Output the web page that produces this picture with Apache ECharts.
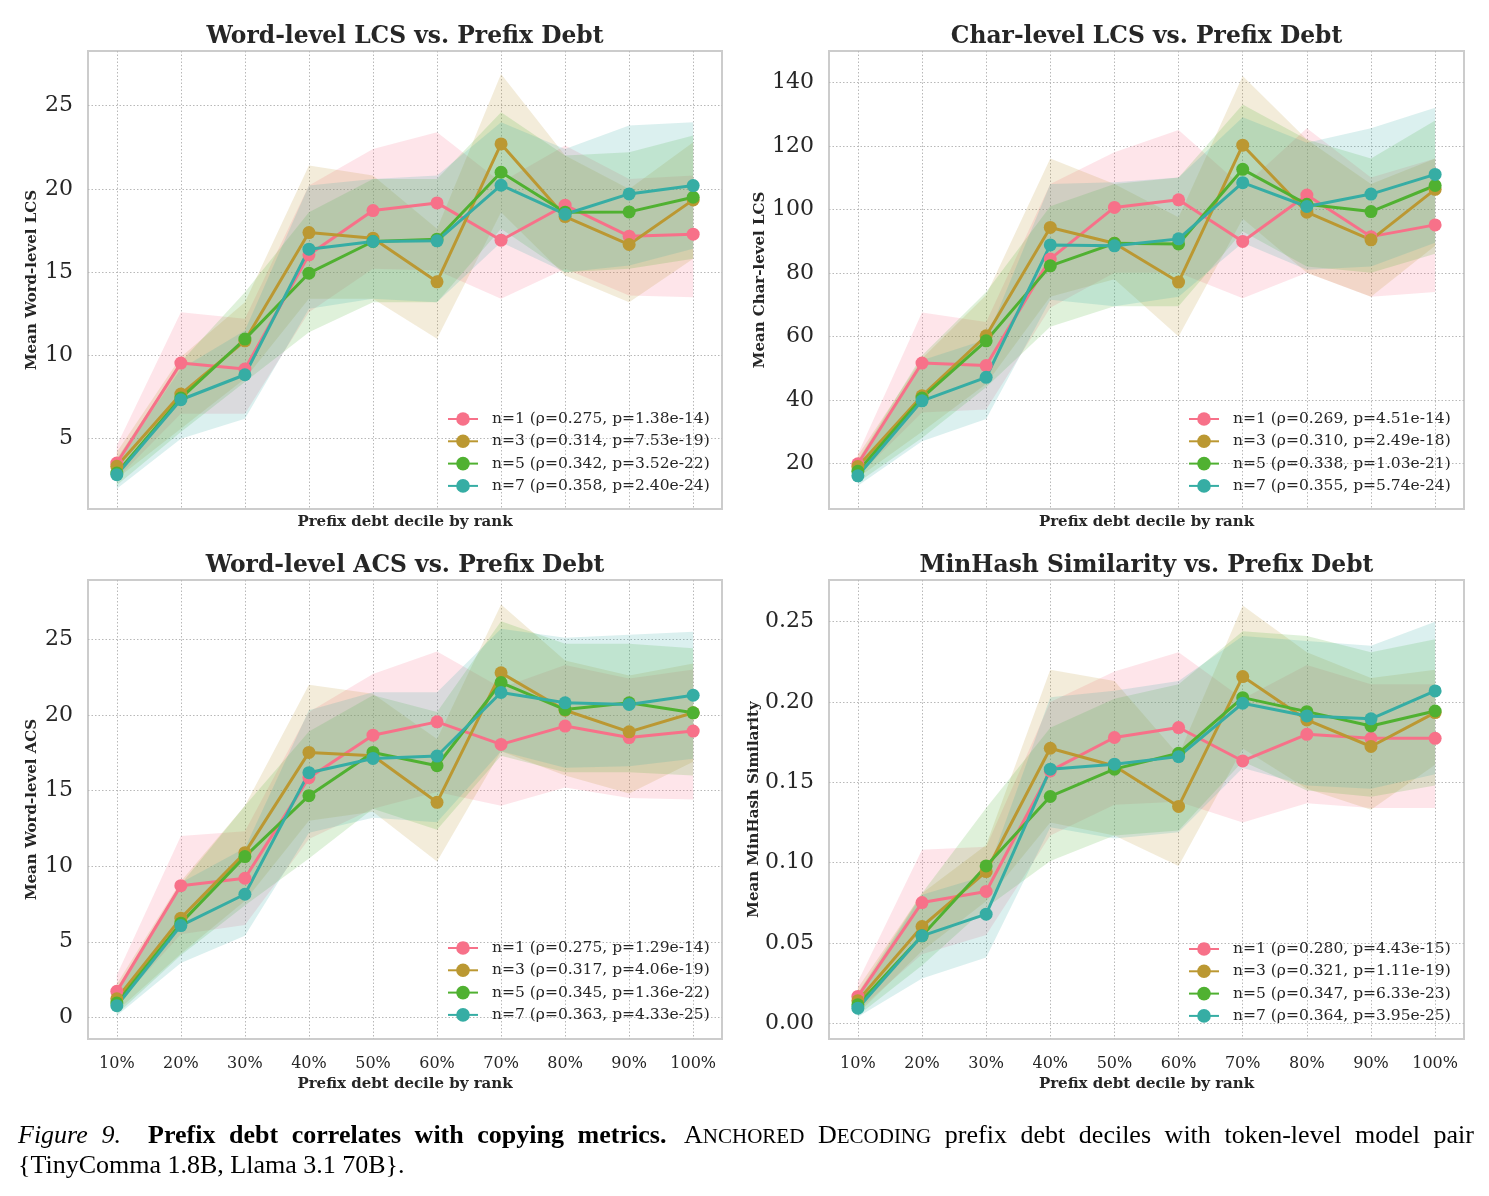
<!DOCTYPE html>
<html><head><meta charset="utf-8">
<script src="https://cdn.jsdelivr.net/npm/echarts@6/dist/echarts.min.js"></script>
<style>html,body{margin:0;padding:0;background:#fff}#c{width:1489px;height:1196px}</style>
</head><body><div id="c"></div>
<script>
// ---------- data ----------
const categories = ['10%','20%','30%','40%','50%','60%','70%','80%','90%','100%'];
const colors = ['#f77189','#bb9832','#50b131','#36ada4'];

// Word-level LCS
const wordLcsLegend = ['n=1 (ρ=0.275, p=1.38e-14)','n=3 (ρ=0.314, p=7.53e-19)','n=5 (ρ=0.342, p=3.52e-22)','n=7 (ρ=0.358, p=2.40e-24)'];
const wordLcsTicks = [5,10,15,20,25];
const wordLcsMean = [
  [3.54, 9.54, 9.18, 16.04, 18.70, 19.16, 16.92, 19.02, 17.16, 17.28],
  [3.34, 7.68, 10.88, 17.38, 17.04, 14.42, 22.70, 18.34, 16.66, 19.34],
  [2.94, 7.44, 10.98, 14.94, 16.84, 16.98, 21.00, 18.60, 18.62, 19.50],
  [2.84, 7.34, 8.84, 16.38, 16.84, 16.88, 20.22, 18.48, 19.70, 20.20]];
const wordLcsLower = [
  [2.6, 6.5, 6.5, 12.6, 15.2, 15.1, 13.4, 15.2, 13.6, 13.5],
  [2.6, 5.6, 8.6, 13.4, 13.4, 11.0, 18.6, 14.8, 13.2, 15.8],
  [2.2, 5.4, 8.4, 11.4, 13.2, 13.2, 17.6, 15.0, 15.2, 15.8],
  [2.0, 5.0, 6.2, 12.8, 13.4, 13.2, 16.8, 15.0, 15.4, 16.4]];
const wordLcsUpper = [
  [4.6, 12.6, 12.2, 20.2, 22.4, 23.4, 20.4, 22.6, 20.6, 20.8],
  [4.2, 9.9, 13.2, 21.4, 20.8, 17.6, 26.9, 22.0, 20.0, 22.8],
  [3.8, 9.6, 13.8, 18.6, 20.6, 20.6, 24.6, 22.0, 22.2, 23.2],
  [3.6, 9.2, 11.5, 20.2, 20.6, 20.8, 24.0, 22.4, 23.8, 24.0]];

// Char-level LCS
const charLcsLegend = ['n=1 (ρ=0.269, p=4.51e-14)','n=3 (ρ=0.310, p=2.49e-18)','n=5 (ρ=0.338, p=1.03e-21)','n=7 (ρ=0.355, p=5.74e-24)'];
const charLcsTicks = [20,40,60,80,100,120,140];
const charLcsMean = [
  [19.9, 51.6, 50.8, 84.4, 100.6, 103.0, 89.9, 104.5, 91.4, 95.1],
  [19.0, 41.3, 60.2, 94.3, 89.3, 77.1, 120.2, 99.1, 90.4, 106.3],
  [17.5, 40.6, 58.6, 82.2, 89.3, 89.1, 112.6, 101.6, 99.3, 107.5],
  [16.1, 39.7, 47.1, 88.8, 88.5, 90.7, 108.4, 100.9, 104.8, 111.0]];
const charLcsLower = [
  [16, 36, 37, 69, 80, 80, 72, 80, 72.5, 74],
  [15.5, 30, 45, 72.5, 78, 60, 97, 80, 72.5, 88.5],
  [14, 28, 44, 63, 69.5, 69.5, 93, 82, 80, 86],
  [13, 27, 34, 71.5, 69.5, 72.5, 89.5, 81, 82, 89.5]];
const charLcsUpper = [
  [23, 67.5, 64.5, 108, 118, 125, 107, 125.5, 110, 116],
  [22.5, 53, 73, 116, 108, 97.5, 142, 122, 108, 116],
  [21, 54, 74, 101, 108, 110, 133, 122, 116, 128],
  [19.5, 52.5, 59, 108, 108.5, 110, 129, 121, 125.5, 132]];

// Word-level ACS
const wordAcsLegend = ['n=1 (ρ=0.275, p=1.29e-14)','n=3 (ρ=0.317, p=4.06e-19)','n=5 (ρ=0.345, p=1.36e-22)','n=7 (ρ=0.363, p=4.33e-25)'];
const wordAcsTicks = [0,5,10,15,20,25];
const wordAcsMean = [
  [1.72, 8.71, 9.20, 15.85, 18.66, 19.54, 18.05, 19.26, 18.50, 18.93],
  [1.23, 6.56, 10.89, 17.52, 17.30, 14.22, 22.78, 20.31, 18.88, 20.14],
  [0.95, 6.23, 10.63, 14.66, 17.52, 16.64, 22.14, 20.35, 20.80, 20.14],
  [0.77, 6.07, 8.14, 16.18, 17.12, 17.28, 21.48, 20.80, 20.69, 21.30]];
const wordAcsLower = [
  [0.8, 5.5, 6.1, 11.8, 13.8, 14.9, 14.0, 15.2, 14.5, 14.4],
  [0.4, 4.2, 7.7, 13.0, 13.6, 10.3, 17.6, 16.0, 14.8, 16.9],
  [0.2, 4.1, 7.4, 10.5, 13.8, 12.4, 17.3, 16.2, 16.2, 16.0],
  [0.1, 3.6, 5.4, 12.2, 13.2, 12.9, 17.6, 16.5, 16.6, 17.1]];
const wordAcsUpper = [
  [2.8, 12.0, 12.3, 20.2, 22.7, 24.2, 21.8, 23.3, 22.4, 23.0],
  [2.2, 9.0, 14.0, 22.0, 21.4, 18.4, 27.3, 23.6, 22.6, 23.4],
  [1.8, 8.8, 14.0, 18.9, 21.3, 20.2, 26.2, 24.7, 24.7, 24.4],
  [1.6, 8.9, 11.2, 20.3, 21.5, 21.5, 25.7, 25.1, 25.3, 25.5]];

// MinHash similarity
const minhashLegend = ['n=1 (ρ=0.280, p=4.43e-15)','n=3 (ρ=0.321, p=1.11e-19)','n=5 (ρ=0.347, p=6.33e-23)','n=7 (ρ=0.364, p=3.95e-25)'];
const minhashTicks = [0, 0.05, 0.10, 0.15, 0.20, 0.25];
const minhashMean = [
  [0.0168, 0.0752, 0.0821, 0.1571, 0.1779, 0.1841, 0.1633, 0.1799, 0.1774, 0.1774],
  [0.0141, 0.0603, 0.0945, 0.1712, 0.1602, 0.1350, 0.2158, 0.1888, 0.1723, 0.1934],
  [0.0116, 0.0545, 0.0980, 0.1412, 0.1582, 0.1681, 0.2027, 0.1940, 0.1851, 0.1944],
  [0.0095, 0.0545, 0.0680, 0.1582, 0.1613, 0.1660, 0.1992, 0.1913, 0.1895, 0.2069]];
const minhashLower = [
  [0.008, 0.043, 0.055, 0.117, 0.136, 0.138, 0.125, 0.137, 0.134, 0.134],
  [0.006, 0.045, 0.076, 0.125, 0.117, 0.098, 0.171, 0.146, 0.133, 0.161],
  [0.005, 0.036, 0.072, 0.101, 0.117, 0.120, 0.163, 0.145, 0.141, 0.148],
  [0.004, 0.028, 0.041, 0.122, 0.115, 0.119, 0.159, 0.148, 0.146, 0.155]];
const minhashUpper = [
  [0.026, 0.108, 0.110, 0.200, 0.219, 0.231, 0.202, 0.223, 0.211, 0.211],
  [0.022, 0.081, 0.111, 0.220, 0.213, 0.167, 0.260, 0.231, 0.215, 0.220],
  [0.019, 0.081, 0.134, 0.184, 0.202, 0.211, 0.244, 0.241, 0.231, 0.239],
  [0.017, 0.080, 0.092, 0.203, 0.207, 0.213, 0.241, 0.238, 0.235, 0.250]];

// caption words
const captionLine1 = [
  ['it','Figure'], ['it','9.'],
  ['bd','Prefix'], ['bd','debt'], ['bd','correlates'], ['bd','with'], ['bd','copying'], ['bd','metrics.'],
  ['sc','ANCHORED'], ['sc','DECODING'],
  ['rg','prefix'], ['rg','debt'], ['rg','deciles'], ['rg','with'], ['rg','token-level'], ['rg','model'], ['rg','pair']];
const captionLine2 = '{TinyComma 1.8B, Llama 3.1 70B}.';

// ---------- layout ----------
const SERIF = 'DejaVu Serif';
const TXT = '#262626';
const xIdx = categories.map((c, i) => i);

const panels = [
  {title:'Word-level LCS vs. Prefix Debt', yName:'Mean Word-level LCS', ticks:wordLcsTicks, min:0.78, max:28.28,
   mean:wordLcsMean, lower:wordLcsLower, upper:wordLcsUpper, legend:wordLcsLegend,
   grid:{left:88, top:51, width:634, height:458}, yGap:48, bottomRow:false, leg:[447, 411], fmt:v=>String(v)},
  {title:'Char-level LCS vs. Prefix Debt', yName:'Mean Char-level LCS', ticks:charLcsTicks, min:5.65, max:149.85,
   mean:charLcsMean, lower:charLcsLower, upper:charLcsUpper, legend:charLcsLegend,
   grid:{left:829, top:51, width:635, height:458}, yGap:60, bottomRow:false, leg:[1188, 411], fmt:v=>String(v)},
  {title:'Word-level ACS vs. Prefix Debt', yName:'Mean Word-level ACS', ticks:wordAcsTicks, min:-1.43, max:28.92,
   mean:wordAcsMean, lower:wordAcsLower, upper:wordAcsUpper, legend:wordAcsLegend,
   grid:{left:88, top:580, width:634, height:459}, yGap:48, bottomRow:true, leg:[447, 940], fmt:v=>String(v)},
  {title:'MinHash Similarity vs. Prefix Debt', yName:'Mean MinHash Similarity', ticks:minhashTicks, min:-0.0097, max:0.2759,
   mean:minhashMean, lower:minhashLower, upper:minhashUpper, legend:minhashLegend,
   grid:{left:829, top:580, width:635, height:459}, yGap:65, bottomRow:true, leg:[1188, 941], fmt:v=>v.toFixed(2)}
];

const gridLine = {show:true, lineStyle:{color:'#b8b8b8', width:1, type:[1.5, 2]}};
const grids = [], xAxes = [], yAxes = [], series = [], legends = [], graphics = [];

function bandRenderer(color) {
  const fill = echarts.color.modifyAlpha(color, 0.18);
  return function (params, api) {
    if (params.dataIndexInside !== 0) return null;
    const n = params.dataInsideLength;
    const top = [], bot = [];
    for (let i = 0; i < n; i++) {
      top.push(api.coord([api.value(0, i), api.value(2, i)]));
      bot.push(api.coord([api.value(0, i), api.value(1, i)]));
    }
    return {type:'polygon', shape:{points: top.concat(bot.reverse())}, style:{fill: fill}, silent:true};
  };
}

panels.forEach((p, k) => {
  grids.push(Object.assign({show:true, borderColor:'#cccccc', borderWidth:2, backgroundColor:'#ffffff', containLabel:false, outerBoundsMode:'none'}, p.grid));
  xAxes.push({
    type:'value', gridIndex:k, min:-0.45, max:9.45,
    axisLine:{show:false}, axisTick:{show:false, customValues:xIdx},
    axisLabel:{show:p.bottomRow, customValues:xIdx, formatter:v=>categories[Math.round(v)] || '',
      fontFamily:SERIF, fontSize:16, color:TXT, margin:17},
    splitLine:gridLine,
    name:'Prefix debt decile by rank', nameLocation:'middle', nameGap:p.bottomRow ? 38 : 6,
    nameTextStyle:{fontFamily:SERIF, fontWeight:'bold', fontSize:15, color:TXT}
  });
  yAxes.push({
    type:'value', gridIndex:k, min:p.min, max:p.max,
    axisLine:{show:false}, axisTick:{show:false, customValues:p.ticks},
    axisLabel:{customValues:p.ticks, formatter:p.fmt, fontFamily:SERIF, fontSize:22, color:TXT, margin:15},
    splitLine:gridLine,
    name:p.yName, nameLocation:'middle', nameGap:p.yGap,
    nameTextStyle:{fontFamily:SERIF, fontWeight:'bold', fontSize:15, color:TXT}
  });
  for (let s = 0; s < 4; s++) {
    series.push({type:'custom', name:'band'+k+s, xAxisIndex:k, yAxisIndex:k, silent:true, z:1,
      data:p.lower[s].map((v,i)=>[i, v, p.upper[s][i]]), encode:{x:0, y:[1,2]},
      renderItem:bandRenderer(colors[s])});
  }
  for (let s = 0; s < 4; s++) {
    series.push({type:'line', name:p.legend[s], xAxisIndex:k, yAxisIndex:k,
      data:p.mean[s].map((v,i)=>[i, v]), symbol:'circle', symbolSize:13, showSymbol:true,
      lineStyle:{width:3, color:colors[s]}, itemStyle:{color:colors[s]}, z:3});
  }
  legends.push({
    data:p.legend, orient:'vertical', left:p.leg[0], top:p.leg[1], padding:0,
    itemWidth:30, itemHeight:17, itemGap:6.3, selectedMode:false,
    textStyle:{fontFamily:SERIF, fontSize:15.5, color:TXT, lineHeight:14, padding:[0,0,0,9]}
  });
  graphics.push({type:'text', x:p.grid.left + p.grid.width/2, y:p.grid.top - 14,
    style:{text:p.title, font:'bold 23.4px "DejaVu Serif"', fill:TXT, textAlign:'center', textVerticalAlign:'middle'}});
});

// caption (justified first line)
const CAPF = '"Liberation Serif"';
const FS = 26, FSS = 21;
const fonts = {it:'italic ' + FS + 'px ' + CAPF, bd:'bold ' + FS + 'px ' + CAPF, rg:FS + 'px ' + CAPF, sm:FSS + 'px ' + CAPF};
const mctx = document.createElement('canvas').getContext('2d');
function tw(t, f) { mctx.font = f; return mctx.measureText(t).width; }
const pieces = captionLine1.map(([kind, word]) => {
  if (kind === 'sc') return [[word[0], fonts.rg, 0], [word.slice(1), fonts.sm, 1.5]];
  return [[word, fonts[kind], 0]];
});
const widths = pieces.map(ps => ps.reduce((a, q) => a + tw(q[0], q[1]), 0));
const gapW = captionLine1.map((c, i) => i === captionLine1.length - 1 ? 0 : (c[1] === '9.' ? 2 : (c[1] === 'metrics.' ? 1.3 : 1)));
const natural = widths.reduce((a, b) => a + b, 0);
const unit = (1474 - 18 - natural) / gapW.reduce((a, b) => a + b, 0);
let cx = 18;
pieces.forEach((ps, i) => {
  ps.forEach(q => {
    graphics.push({type:'text', x:cx, y:1136 + q[2], style:{text:q[0], font:q[1], fill:'#000', textAlign:'left', textVerticalAlign:'middle'}});
    cx += tw(q[0], q[1]);
  });
  cx += gapW[i] * unit;
});
graphics.push({type:'text', x:18, y:1166, style:{text:captionLine2, font:fonts.rg, fill:'#000', textAlign:'left', textVerticalAlign:'middle'}});

const chart = echarts.init(document.getElementById('c'), null, {renderer:'canvas', width:1489, height:1196});
chart.setOption({
  backgroundColor:'#ffffff', animation:false,
  grid:grids, xAxis:xAxes, yAxis:yAxes, series:series, legend:legends, graphic:graphics
});
</script></body></html>
